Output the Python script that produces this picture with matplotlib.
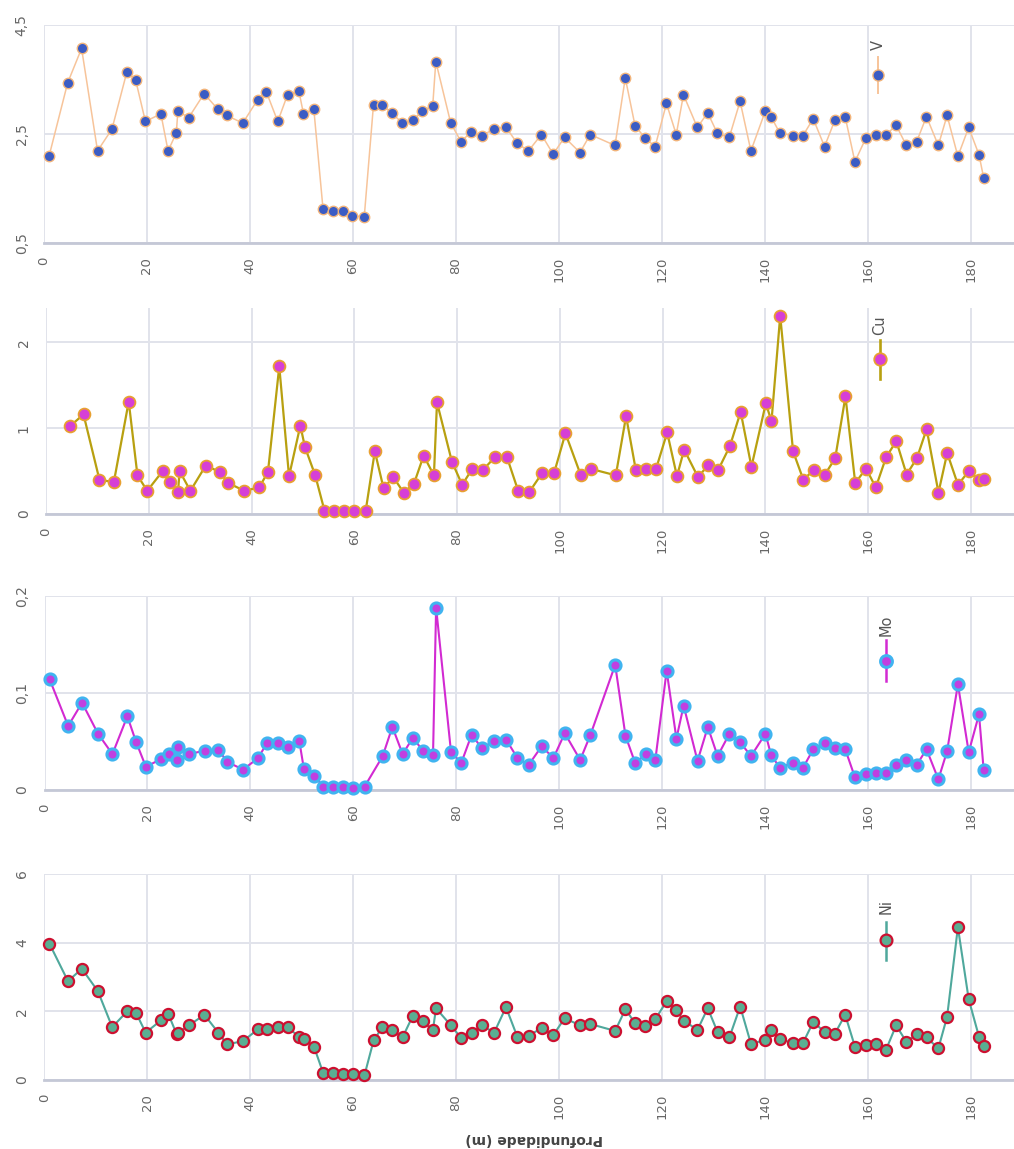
import numpy as np
import matplotlib
matplotlib.use("Agg")
import matplotlib.pyplot as plt
from matplotlib.lines import Line2D

# ---------------- data ----------------
depth = [1.0, 4.6, 7.3, 10.4, 13.2, 16.1, 17.8, 19.7, 22.7, 24.1,
         25.7, 26.0, 28.1, 31.1, 33.8, 35.5, 38.6, 41.5, 43.2, 45.4,
         47.3, 49.5, 50.4, 52.4, 54.2, 56.1, 58.0, 59.9, 62.2, 64.0,
         65.7, 67.6, 69.6, 71.6, 73.5, 75.5, 76.1, 79.0, 81.0, 83.0,
         85.0, 87.4, 89.7, 91.9, 94.1, 96.6, 98.9, 101.1, 104.1, 106.1,
         110.9, 112.9, 114.8, 116.8, 118.7, 120.9, 122.8, 124.2, 126.9, 128.9,
         130.8, 133.1, 135.2, 137.3, 140.1, 141.2, 142.9, 145.4, 147.4, 149.4,
         151.6, 153.6, 155.6, 157.5, 159.6, 161.5, 163.5, 165.5, 167.5, 169.5,
         171.4, 173.7, 175.4, 177.5, 179.6, 181.6, 182.5]

V = [2.10, 3.44, 4.07, 2.19, 2.59, 3.64, 3.49, 2.73, 2.87, 2.19,
     2.52, 2.92, 2.80, 3.24, 2.95, 2.84, 2.70, 3.13, 3.27, 2.73,
     3.22, 3.29, 2.87, 2.96, 1.12, 1.09, 1.09, 1.00, 0.98, 3.04,
     3.04, 2.88, 2.70, 2.75, 2.92, 3.02, 3.83, 2.70, 2.36, 2.54,
     2.47, 2.59, 2.63, 2.33, 2.19, 2.49, 2.13, 2.44, 2.16, 2.49,
     2.29, 3.53, 2.65, 2.42, 2.27, 3.06, 2.49, 3.22, 2.62, 2.89,
     2.51, 2.44, 3.10, 2.19, 2.92, 2.82, 2.52, 2.47, 2.47, 2.78,
     2.27, 2.75, 2.82, 1.99, 2.42, 2.48, 2.48, 2.66, 2.29, 2.36,
     2.82, 2.29, 2.84, 2.09, 2.62, 2.12, 1.70]

Cu = [np.nan, 1.02, 1.16, 0.40, 0.37, 1.31, 0.45, 0.27, 0.50, 0.375,
      0.26, 0.50, 0.27, 0.565, 0.49, 0.36, 0.27, 0.31, 0.49, 1.72,
      0.44, 1.03, 0.78, 0.45, 0.04, 0.03, 0.03, 0.03, 0.03, 0.73,
      0.30, 0.43, 0.25, 0.35, 0.68, 0.45, 1.30, 0.61, 0.34, 0.53,
      0.51, 0.665, 0.665, 0.27, 0.26, 0.48, 0.48, 0.94, 0.45, 0.525,
      0.45, 1.14, 0.51, 0.53, 0.52, 0.95, 0.44, 0.75, 0.43, 0.57,
      0.51, 0.79, 1.19, 0.55, 1.29, 1.08, 2.31, 0.73, 0.40, 0.51,
      0.46, 0.65, 1.37, 0.36, 0.53, 0.31, 0.66, 0.85, 0.46, 0.65,
      0.99, 0.25, 0.71, 0.34, 0.50, 0.395, 0.405]

Mo = [0.114, 0.066, 0.090, 0.058, 0.037, 0.076, 0.0495, 0.024, 0.032, 0.0375,
      0.031, 0.044, 0.037, 0.0406, 0.0416, 0.029, 0.021, 0.033, 0.048, 0.0485,
      0.044, 0.051, 0.022, 0.0144, 0.0035, 0.0035, 0.0035, 0.002, 0.0035, np.nan,
      0.0347, 0.065, 0.037, 0.054, 0.0406, 0.036, 0.188, 0.039, 0.028, 0.057,
      0.043, 0.051, 0.052, 0.033, 0.026, 0.045, 0.033, 0.0585, 0.031, 0.057,
      0.129, 0.056, 0.0275, 0.037, 0.031, 0.123, 0.053, 0.087, 0.030, 0.065,
      0.035, 0.058, 0.049, 0.035, 0.058, 0.036, 0.023, 0.028, 0.023, 0.042,
      0.048, 0.043, 0.042, 0.013, 0.017, 0.018, 0.018, 0.026, 0.031, 0.026,
      0.042, 0.011, 0.040, 0.109, 0.039, 0.078, 0.021]

Ni = [3.97, 2.88, 3.24, 2.59, 1.54, 2.00, 1.96, 1.38, 1.74, 1.92,
      1.34, 1.38, 1.59, 1.90, 1.38, 1.04, 1.13, 1.48, 1.50, 1.53,
      1.53, 1.26, 1.19, 0.97, 0.195, 0.195, 0.166, 0.166, 0.137, 1.16,
      1.54, 1.45, 1.24, 1.87, 1.71, 1.45, 2.09, 1.59, 1.22, 1.36,
      1.59, 1.38, 2.12, 1.26, 1.29, 1.51, 1.31, 1.80, 1.59, 1.63,
      1.43, 2.06, 1.65, 1.57, 1.77, 2.29, 2.04, 1.73, 1.46, 2.09,
      1.40, 1.24, 2.14, 1.05, 1.17, 1.46, 1.19, 1.08, 1.08, 1.69,
      1.40, 1.35, 1.90, 0.97, 1.01, 1.04, 0.87, 1.59, 1.11, 1.33,
      1.24, 0.92, 1.84, 4.45, 2.35, 1.26, 0.98]

series_names = ["V", "Cu", "Mo", "Ni"]
series_values = [V, Cu, Mo, Ni]

x_ticks = [0, 20, 40, 60, 80, 100, 120, 140, 160, 180]
x_ticklabels = ["0", "20", "40", "60", "80", "100", "120", "140", "160", "180"]
y_ticks = [[0.5, 2.5, 4.5], [0, 1, 2], [0, 0.1, 0.2], [0, 2, 4, 6]]
y_ticklabels = [["0,5", "2,5", "4,5"], ["0", "1", "2"], ["0", "0,1", "0,2"], ["0", "2", "4", "6"]]
y_limits = [(0.5, 4.5), (0, 2.4), (0, 0.2), (0, 6)]
x_label = "Profundidade (m)"

# ---------------- style ----------------
W, H = 1014, 1149
fig = plt.figure(figsize=(W / 100, H / 100), dpi=100)
fig.patch.set_facecolor("white")

# axes boxes in pixel coords: left, top, bottom
boxes = [(44, 25, 243), (46, 308, 514), (44.5, 596, 790), (44.3, 874, 1080)]
styles = [
    dict(line="#f7c49a", lw=1.1, face="#3b5cc4", edge="#f2b47a", ms=7.5, mew=1.0),
    dict(line="#b8a010", lw=1.6, face="#d63fd6", edge="#e8a030", ms=8.5, mew=1.3),
    dict(line="#d22ad2", lw=1.5, face="#c040e0", edge="#40b4f0", ms=8.0, mew=2.2),
    dict(line="#4fa89c", lw=1.5, face="#5aae92", edge="#cc1030", ms=8.0, mew=1.6),
]
legend_px = [(878, 45, 75, 57, 93), (880, 325, 359, 340, 379),
             (886, 625, 661, 640, 681), (886, 907, 940, 922, 960)]

grid_c = "#e1e3eb"
axis_c = "#c4c8d6"
tick_c = "#666666"
depth_arr = np.array(depth)

for i, (name, vals) in enumerate(zip(series_names, series_values)):
    left, top, bottom = boxes[i]
    ax = fig.add_axes([left / W, 1 - bottom / H, (W - left) / W, (bottom - top) / H])
    vals = np.array(vals, dtype=float)
    m = np.isfinite(vals)
    st = styles[i]
    ax.plot(depth_arr[m], vals[m], color=st["line"], lw=st["lw"], marker="o",
            markersize=st["ms"], markerfacecolor=st["face"], markeredgecolor=st["edge"],
            markeredgewidth=st["mew"], zorder=3, clip_on=False)
    ax.set_xlim(0, 188.4)
    ax.set_ylim(*y_limits[i])
    ax.set_xticks(x_ticks)
    ax.set_xticklabels(x_ticklabels, rotation=90, color=tick_c, fontsize=9.5)
    ax.set_yticks(y_ticks[i])
    ax.set_yticklabels(y_ticklabels[i], rotation=90, color=tick_c, fontsize=10, va="center")
    ax.tick_params(axis="both", length=0)
    ax.tick_params(axis="x", pad=10)
    ax.tick_params(axis="y", pad=11)
    ax.grid(True, color=grid_c, lw=1.4, zorder=0)
    for s in ["top", "right", "left"]:
        ax.spines[s].set_visible(False)
    ax.spines["bottom"].set_color(axis_c)
    ax.spines["bottom"].set_linewidth(2)
    ax.set_axisbelow(True)

    # vertical legend glyph
    lx, ty, my, y1, y2 = legend_px[i]
    fig.add_artist(Line2D([lx / W, lx / W], [1 - y1 / H, 1 - y2 / H], color=st["line"],
                          lw=st["lw"] + 0.3, transform=fig.transFigure))
    fig.add_artist(Line2D([lx / W], [1 - my / H], marker="o", markersize=st["ms"] + 0.5,
                          markerfacecolor=st["face"], markeredgecolor=st["edge"],
                          markeredgewidth=st["mew"], transform=fig.transFigure))
    fig.text(lx / W, 1 - ty / H, name, rotation=90, ha="center", va="center",
             color="#555555", fontsize=10.5)

fig.text(534 / W, 1 - 1139 / H, x_label, rotation=180, ha="center", va="center",
         color="#444444", fontsize=10, fontweight="bold")

fig.savefig("out.png", dpi=100, facecolor="white")
